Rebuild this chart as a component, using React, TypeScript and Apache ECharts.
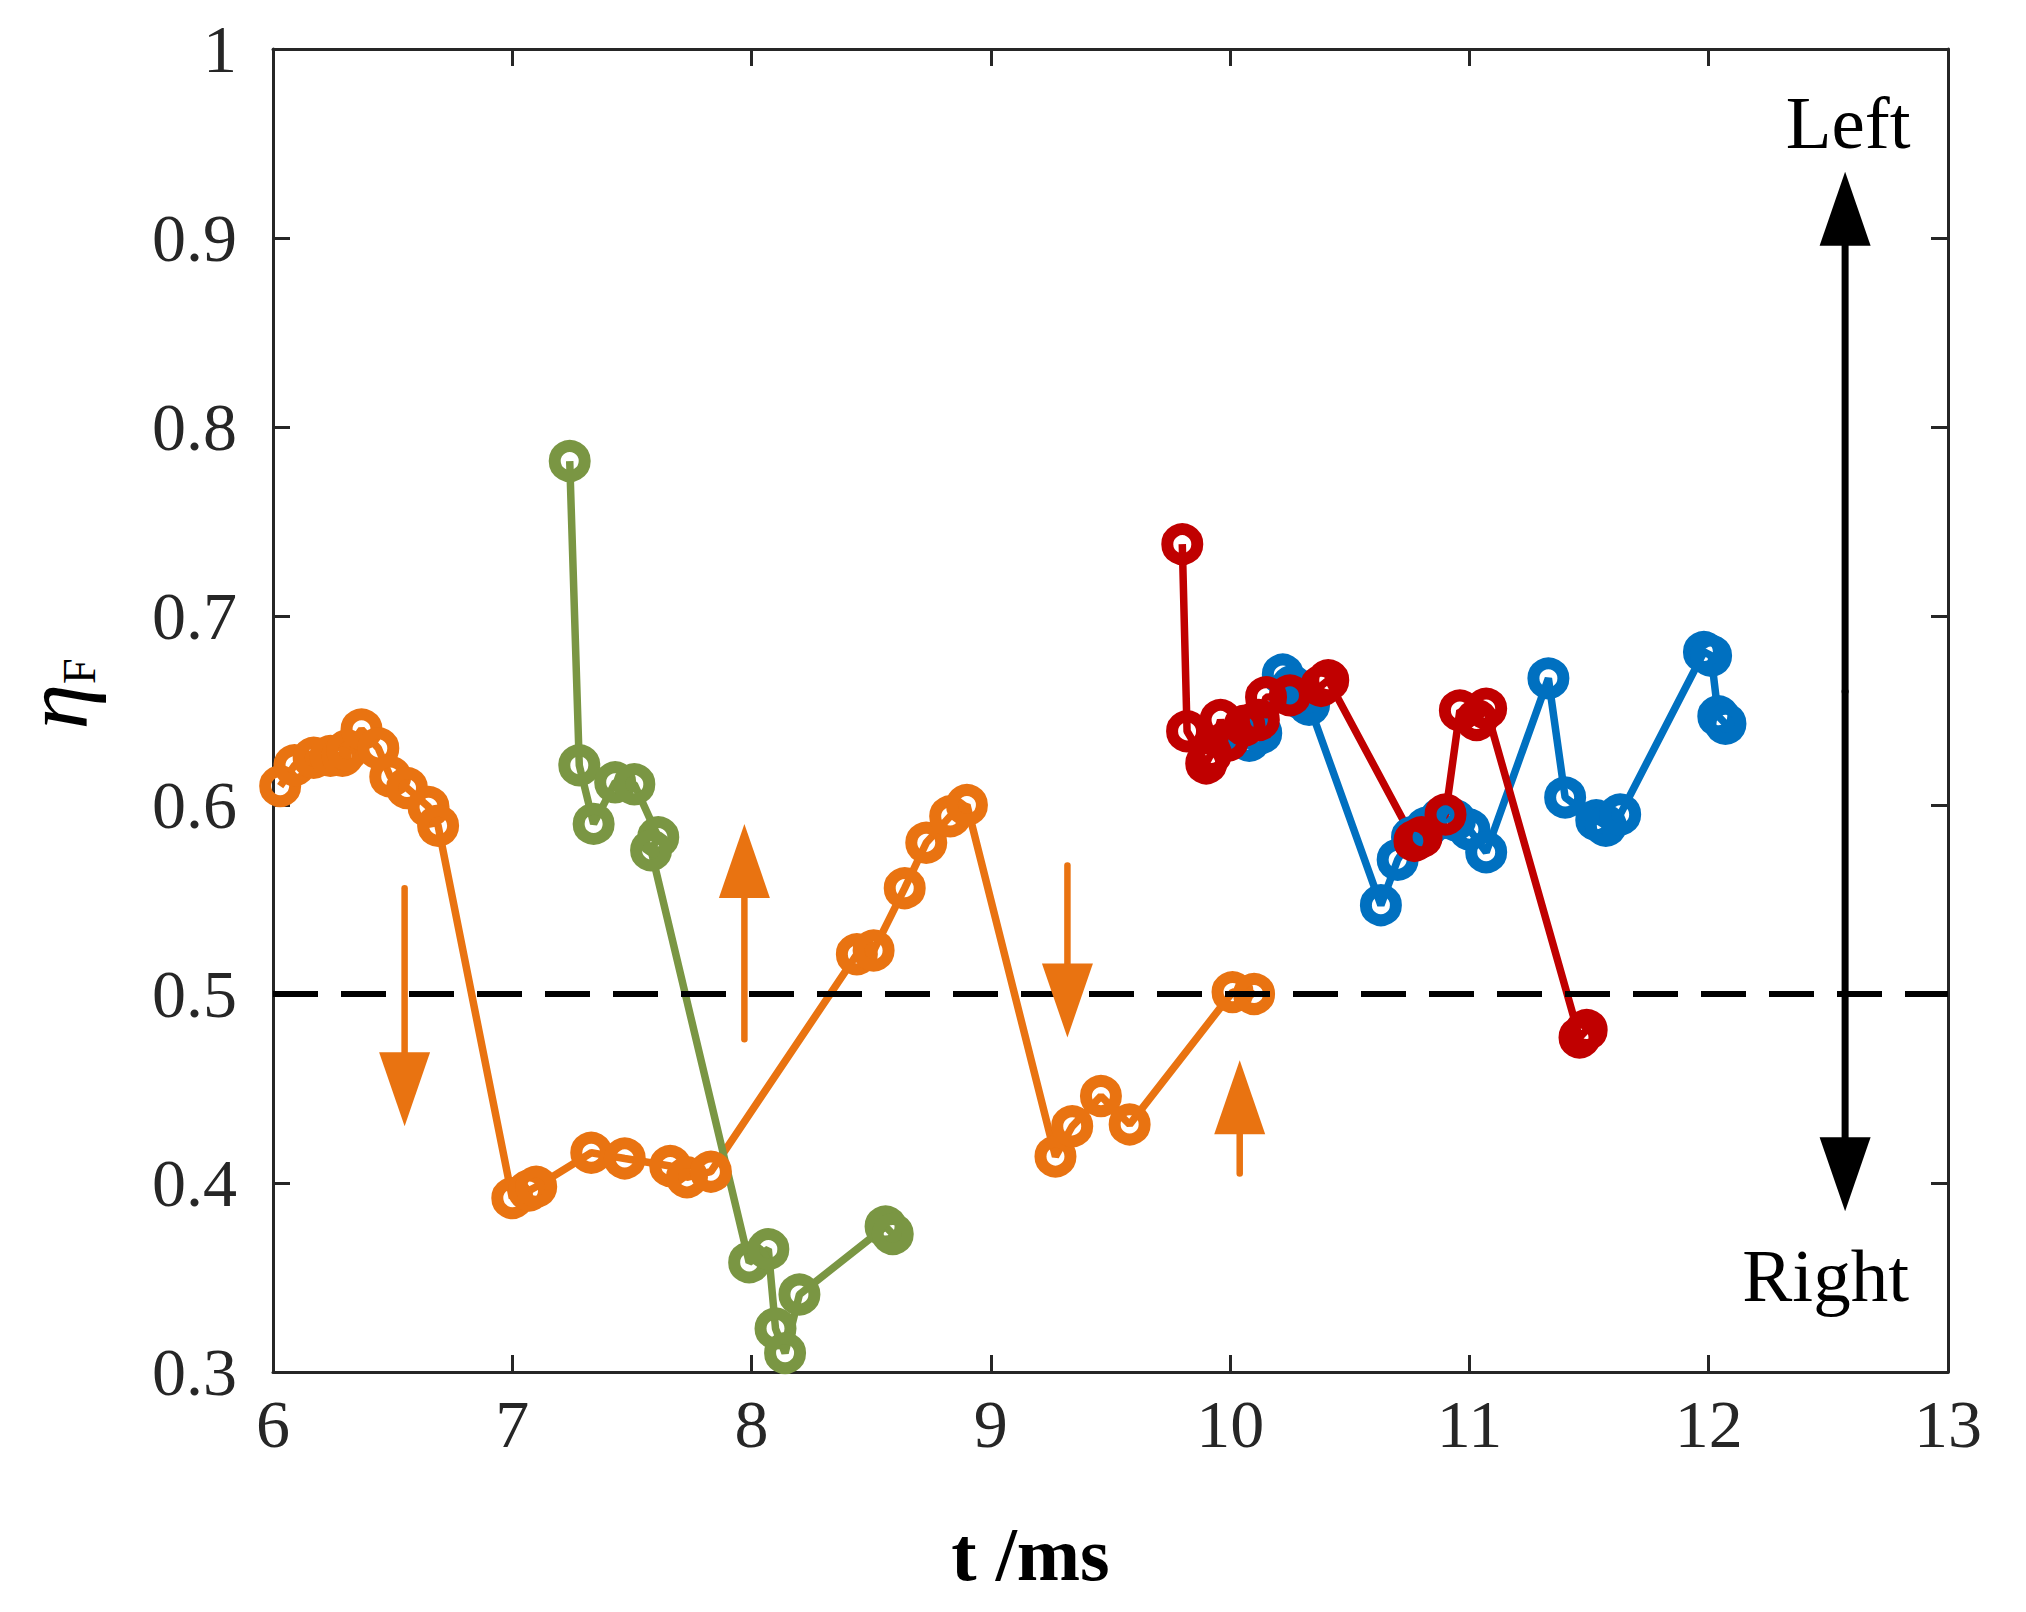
import React, { useEffect, useRef } from "react";
import * as echarts from "echarts";

// ---- data ----
const orangeT = [6.03, 6.09, 6.17, 6.24, 6.29, 6.31, 6.37, 6.44, 6.49, 6.56, 6.65, 6.69, 7.0, 7.07, 7.1, 7.33, 7.47, 7.66, 7.73, 7.83, 8.44, 8.51, 8.64, 8.73, 8.83, 8.9, 9.27, 9.34, 9.46, 9.58, 10.01, 10.1];
const orangeEta = [0.61, 0.621, 0.625, 0.626, 0.626, 0.629, 0.64, 0.63, 0.615, 0.609, 0.599, 0.589, 0.392, 0.396, 0.398, 0.416, 0.413, 0.409, 0.403, 0.406, 0.521, 0.523, 0.556, 0.58, 0.594, 0.6, 0.414, 0.43, 0.446, 0.431, 0.501, 0.5];

const greenT = [7.24, 7.28, 7.34, 7.43, 7.51, 7.61, 7.58, 7.99, 8.07, 8.1, 8.14, 8.2, 8.56, 8.59];
const greenEta = [0.782, 0.621, 0.59, 0.612, 0.611, 0.583, 0.576, 0.358, 0.365, 0.323, 0.31, 0.341, 0.377, 0.373];

const blueT = [10.08, 10.13, 10.22, 10.26, 10.3, 10.33, 10.63, 10.7, 10.76, 10.82, 10.88, 10.94, 11.0, 11.07, 11.33, 11.4, 11.53, 11.57, 11.63, 11.98, 12.01, 12.04, 12.07];
const blueEta = [0.634, 0.638, 0.669, 0.663, 0.656, 0.653, 0.547, 0.571, 0.583, 0.588, 0.593, 0.592, 0.587, 0.575, 0.667, 0.604, 0.592, 0.589, 0.595, 0.681, 0.679, 0.647, 0.643];

const redT = [9.8, 9.82, 9.9, 9.92, 9.96, 9.99, 10.06, 10.12, 10.15, 10.25, 10.38, 10.41, 10.77, 10.8, 10.9, 10.96, 11.03, 11.07, 11.46, 11.49];
const redEta = [0.738, 0.639, 0.622, 0.627, 0.645, 0.634, 0.642, 0.645, 0.657, 0.658, 0.663, 0.666, 0.581, 0.583, 0.595, 0.65, 0.645, 0.651, 0.477, 0.481];

const refLevel = 0.5;
const xTicks = { min: 6, max: 13, step: 1 };
const yTicks = { min: 0.3, max: 1, step: 0.1 };

// arrows: [t, from eta, to eta]
const orangeArrows = [
  [6.55, 0.556, 0.43],
  [7.97, 0.476, 0.59],
  [9.32, 0.568, 0.477],
  [10.04, 0.405, 0.465],
];
const directionArrow = [12.57, 0.935, 0.385];
const directionLabels = ["Left", "Right"];

const ORANGE = "#E97311";
const GREEN = "#7A9643";
const BLUE = "#0070C0";
const RED = "#C00000";
const AXIS = "#262626";
const SERIF = "Liberation Serif";

const zip = (a: number[], b: number[]) => a.map((v, i) => [v, b[i]]);

function lineSeries(name: string, t: number[], eta: number[], color: string) {
  return {
    name,
    type: "line",
    data: zip(t, eta),
    symbol: "circle",
    symbolSize: 30,
    clip: false,
    itemStyle: { color: "rgba(0,0,0,0)", borderColor: color, borderWidth: 12 },
    lineStyle: { color, width: 7.5 },
    z: 3,
  };
}

export default function App() {
  const ref = useRef<HTMLDivElement>(null);
  useEffect(() => {
    document.body.style.margin = "0";
    const chart = echarts.init(ref.current!, null, { renderer: "svg" });
    const axisCommon = {
      type: "value",
      axisLine: { show: true, onZero: false, lineStyle: { color: AXIS, width: 3 } },
      axisTick: { show: true, inside: true, length: 17, lineStyle: { color: AXIS, width: 3 } },
      splitLine: { show: false },
    };
    const option: any = {
      animation: false,
      backgroundColor: "#fff",
      grid: { left: 273, top: 49, width: 1675, height: 1323, containLabel: false },
      xAxis: [
        {
          ...axisCommon,
          position: "bottom",
          min: xTicks.min,
          max: xTicks.max,
          interval: xTicks.step,
          axisLabel: { fontFamily: SERIF, fontSize: 68, color: AXIS, margin: 18 },
          name: "t /ms",
          nameLocation: "middle",
          nameGap: 144,
          nameTextStyle: { fontFamily: SERIF, fontSize: 76, fontWeight: "bold", color: "#000", padding: [0, 160, 0, 0] },
        },
        {
          ...axisCommon,
          position: "top",
          min: xTicks.min,
          max: xTicks.max,
          interval: xTicks.step,
          axisLabel: { show: false },
        },
      ],
      yAxis: [
        {
          ...axisCommon,
          position: "left",
          min: yTicks.min,
          max: yTicks.max,
          interval: yTicks.step,
          axisLabel: {
            fontFamily: SERIF,
            fontSize: 68,
            color: AXIS,
            margin: 36,
            formatter: (v: number) => (Math.abs(v - 1) < 1e-9 ? "1" : v.toFixed(1)),
          },
        },
        {
          ...axisCommon,
          position: "right",
          min: yTicks.min,
          max: yTicks.max,
          interval: yTicks.step,
          axisLabel: { show: false },
        },
      ],
      series: [
        lineSeries("orange", orangeT, orangeEta, ORANGE),
        lineSeries("green", greenT, greenEta, GREEN),
        lineSeries("blue", blueT, blueEta, BLUE),
        lineSeries("red", redT, redEta, RED),
        {
          name: "ref",
          type: "line",
          data: [
            [xTicks.min, refLevel],
            [xTicks.max, refLevel],
          ],
          symbol: "none",
          lineStyle: { color: "#000", width: 6, type: [45, 23], cap: "butt" },
          z: 4,
        },
      ],
    };
    chart.setOption(option);

    const px = (t: number, e: number) => chart.convertToPixel({ xAxisIndex: 0, yAxisIndex: 0 }, [t, e]) as number[];
    const graphics: any[] = [];
    const addArrow = (a: number[], color: string, shaftW: number, headL: number, headW: number) => {
      const p0 = px(a[0], a[1]);
      const p1 = px(a[0], a[2]);
      const d = Math.sign(p1[1] - p0[1]);
      const baseY = p1[1] - d * headL;
      graphics.push({
        type: "line",
        shape: { x1: p0[0], y1: p0[1], x2: p0[0], y2: baseY + d * 2 },
        style: { stroke: color, lineWidth: shaftW, lineCap: "round" },
        z: 10,
      });
      graphics.push({
        type: "polygon",
        shape: { points: [[p1[0] - headW / 2, baseY], [p1[0] + headW / 2, baseY], [p1[0], p1[1]]] },
        style: { fill: color },
        z: 10,
      });
    };
    orangeArrows.forEach((a) => addArrow(a, ORANGE, 6.5, 74, 51));
    // double-headed black arrow
    {
      const [t, top, bot] = directionArrow;
      const mid = (top + bot) / 2;
      addArrow([t, mid, top], "#000", 7, 74, 51);
      addArrow([t, mid, bot], "#000", 7, 74, 51);
      const pt = px(t, top);
      const pb = px(t, bot);
      graphics.push({
        type: "text",
        x: pt[0] + 3,
        y: pt[1] - 49,
        style: { text: directionLabels[0], font: `75px ${SERIF}`, fill: "#000", align: "center", verticalAlign: "middle" },
        z: 10,
      });
      graphics.push({
        type: "text",
        x: 1909,
        y: pb[1] + 64,
        style: { text: directionLabels[1], font: `75px ${SERIF}`, fill: "#000", align: "right", verticalAlign: "middle" },
        z: 10,
      });
    }
    // y-axis title eta_F
    graphics.push({
      type: "text",
      x: 56,
      y: 694,
      rotation: Math.PI / 2,
      style: {
        text: "{a|η}{b|F}",
        align: "center",
        verticalAlign: "middle",
        rich: {
          a: { fontFamily: SERIF, fontStyle: "italic", fontSize: 92, fill: "#000" },
          b: { fontFamily: SERIF, fontSize: 46, fill: "#000", verticalAlign: "bottom" },
        },
      },
      z: 10,
    });
    chart.setOption({ graphic: graphics });
    return () => chart.dispose();
  }, []);
  return <div ref={ref} style={{ width: 2026, height: 1612 }} />;
}
